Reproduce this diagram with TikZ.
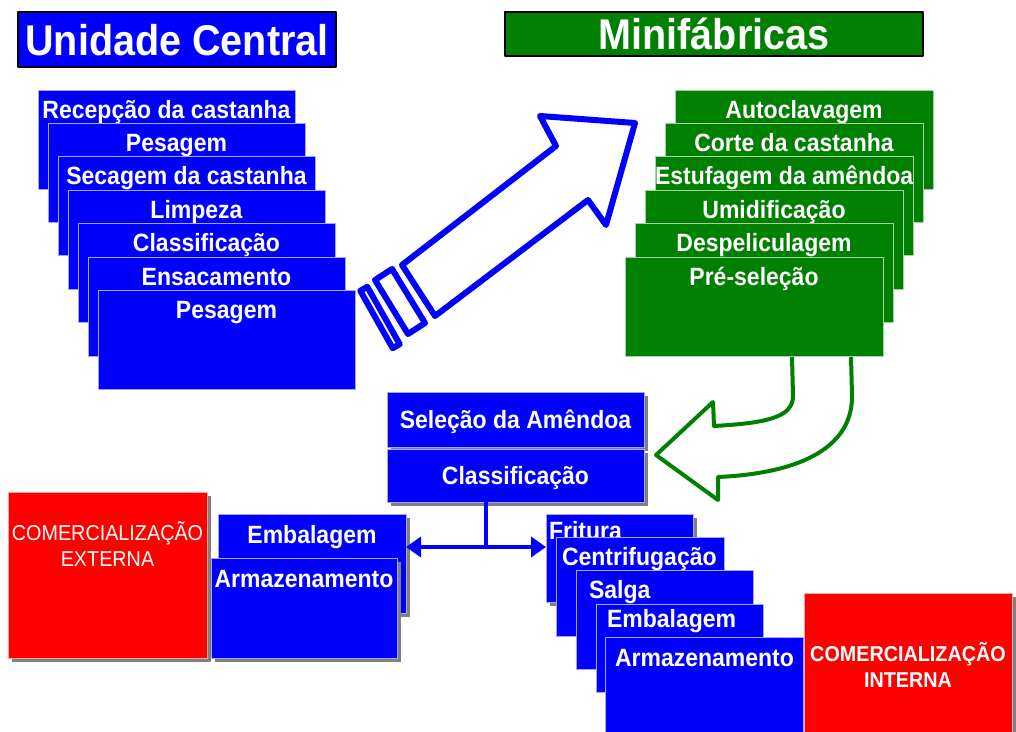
\documentclass[tikz,border=0pt]{standalone}
\usepackage{fontspec}
\setmainfont{Liberation Sans}[FakeStretch=0.92]
\usetikzlibrary{arrows.meta,shadows}

\definecolor{ucblue}{RGB}{0,0,255}
\definecolor{mfgreen}{RGB}{0,128,0}
\definecolor{cmred}{RGB}{255,0,0}
\definecolor{shade}{RGB}{128,128,128}

\begin{document}
\begin{tikzpicture}[x=1pt,y=-1pt,line join=round,>={Triangle[length=15pt,width=20pt]},
  every node/.style={inner sep=0pt,outer sep=0pt,anchor=north west,text=white,
    font=\bfseries\fontsize{25}{30}\selectfont},
  ttl/.style={fill=#1,draw=black,line width=1.2pt,text height=31pt,text depth=0pt,
    font=\bfseries\fontsize{43}{50}\selectfont},
  box/.style={fill=#1,draw=white!65!#1,line width=0.8pt},
  stk/.style={box=#1,minimum width=257pt,text height=28pt,text depth=71pt},
  lft/.style={box=ucblue,align=left,inner xsep=#1},
  shd/.style={drop shadow={shadow xshift=3.5pt,shadow yshift=-3.5pt,fill=shade,opacity=1}},
  midbox/.style={box=ucblue,shd,minimum width=257pt,text height=18pt,text depth=0pt},
  combox/.style={box=cmred,shd,text width=#1,align=center,font=\fontsize{21.5}{26}\selectfont},
  link/.style={ucblue,line width=4.5pt},
  hollow/.style={line width=#1,fill=none}]

\useasboundingbox (0,0) rectangle (1016,731);

\node[ttl=ucblue,minimum width=318pt,minimum height=55pt] (uc) at (18,12) {Unidade Central};
\node[ttl=mfgreen,minimum width=418pt,minimum height=44pt] (mf) at (505,12) {Minifábricas};

% unidade central
\node[stk=ucblue] (uc1) at (38,90) {Recepção da castanha};
\node[stk=ucblue] (uc2) at (48,123.4) {Pesagem};
\node[stk=ucblue] (uc3) at (58,156.8) {Secagem da castanha};
\node[stk=ucblue] (uc4) at (68,190.2) {Limpeza};
\node[stk=ucblue] (uc5) at (78,223.6) {Classificação};
\node[stk=ucblue] (uc6) at (88,257) {Ensacamento};
\node[stk=ucblue] (uc7) at (98,290.4) {Pesagem};

% minifabricas
\node[stk=mfgreen,minimum width=258pt] (mf1) at (675,90) {Autoclavagem};
\node[stk=mfgreen,minimum width=258pt] (mf2) at (665,123.4) {Corte da castanha};
\node[stk=mfgreen,minimum width=258pt] (mf3) at (655,156.8) {Estufagem da amêndoa};
\node[stk=mfgreen,minimum width=258pt] (mf4) at (645,190.2) {Umidificação};
\node[stk=mfgreen,minimum width=258pt] (mf5) at (635,223.6) {Despeliculagem};
\node[stk=mfgreen,minimum width=258pt] (mf6) at (625,257) {Pré-seleção};

\draw[ucblue,hollow=6pt]
  (402,265) -- (556,146) -- (540,116) -- (635,123) -- (606,225) -- (588,200) -- (435,316) -- cycle;
\draw[ucblue,hollow=6pt] (375,280) -- (392,269) -- (425,323) -- (408,334) -- cycle;
\draw[ucblue,hollow=6pt] (360.3,290.8) -- (367.3,286.8) -- (399.7,344.2) -- (392.7,348.2) -- cycle;

\draw[mfgreen,hollow=4pt]
  (792,357) -- (793,396) .. controls (793,418) and (765,423) .. (714,426)
  -- (713,402) -- (656,455) -- (718,500) -- (718,477)
  .. controls (805,473) and (853,445) .. (852,395) -- (851,357);

\node[midbox,minimum height=55pt] (sel) at (387,392) {Seleção da Amêndoa};
\node[midbox,minimum height=53pt] (cls) at (387,449) {Classificação};

% externa
\node[combox=199pt,text height=48pt,text depth=118pt] (ext) at (8,492) {COMERCIALIZAÇÃO\\EXTERNA};
\node[box=ucblue,shd,minimum width=188pt,text height=29pt,text depth=70pt] (emb) at (218,514) {Embalagem};
\node[box=ucblue,shd,minimum width=186pt,text height=29pt,text depth=71pt] (arm) at (211,558) {Armazenamento};

% interna
\node[lft=3pt,shd,text width=141pt,text height=25pt,text depth=63pt] (fr1) at (546,514) {Fritura};
\node[lft=6pt,text width=156pt,text height=28pt,text depth=71pt] (fr2) at (556,537) {Centrifugação};
\node[lft=13pt,text width=151pt,text height=28pt,text depth=71pt] (fr3) at (576,570) {Salga};
\node[lft=11pt,text width=145pt,text height=23pt,text depth=65pt] (fr4) at (596,604) {Embalagem};
\node[lft=10pt,text width=178pt,text height=29pt,text depth=67pt] (fr5) at (605,637) {Armazenamento};
\node[combox=208pt,text height=68pt,text depth=72pt,font=\bfseries\fontsize{21.5}{26}\selectfont]
  (int) at (804,593) {COMERCIALIZAÇÃO\\INTERNA};

\coordinate (jn) at (486,547);
\draw[link] (cls.south -| jn) -- (jn);
\draw[link,<->] (emb.east |- jn) -- (fr1.west |- jn);

\end{tikzpicture}
\end{document}
